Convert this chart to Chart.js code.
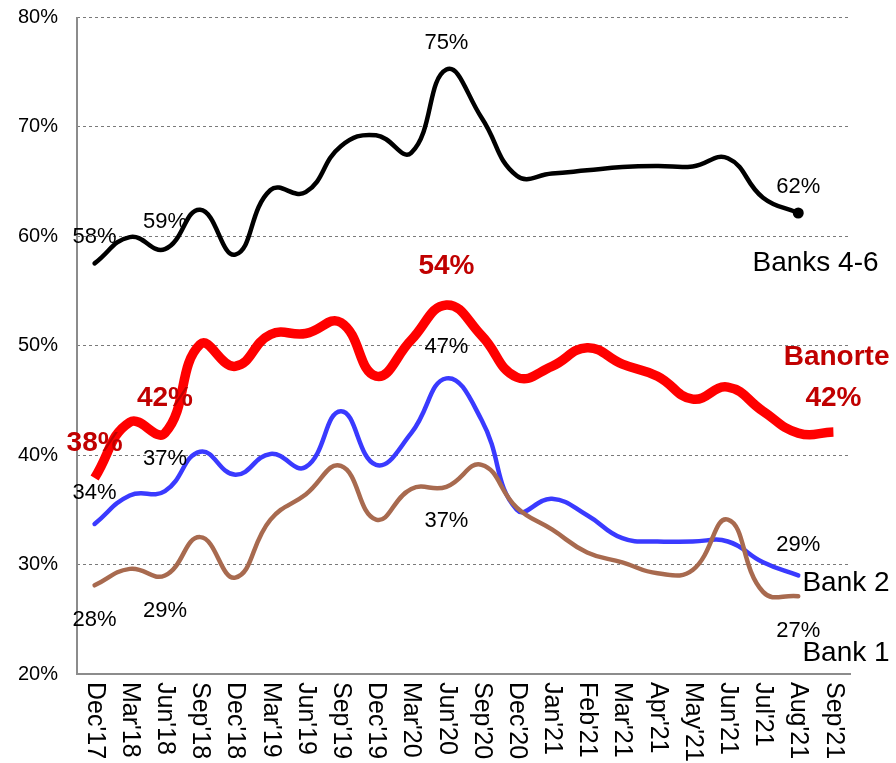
<!DOCTYPE html>
<html>
<head>
<meta charset="utf-8">
<script src="https://cdn.jsdelivr.net/npm/chart.js@4"></script>
<style>
  html, body { margin: 0; padding: 0; background: #fff; }
  #wrap { width: 896px; height: 763px; position: relative; }
</style>
</head>
<body>
<div id="wrap"><canvas id="c" width="896" height="763"></canvas></div>
<script>
const categories = ["Dec'17","Mar'18","Jun'18","Sep'18","Dec'18","Mar'19","Jun'19","Sep'19","Dec'19","Mar'20","Jun'20","Sep'20","Dec'20","Jan'21","Feb'21","Mar'21","Apr'21","May'21","Jun'21","Jul'21","Aug'21","Sep'21"];

const banks46 = [57.5, 59.9, 58.8, 62.4, 58.3, 64.2, 64.0, 68.2, 69.2, 67.6, 75.2, 70.8, 65.5, 65.7, 66.0, 66.3, 66.4, 66.35, 67.1, 63.5, 62.1, null];
const banorte = [37.9, 43.0, 42.0, 50.1, 48.1, 51.0, 51.1, 52.1, 47.2, 50.5, 53.7, 50.9, 47.1, 48.1, 49.8, 48.3, 47.2, 45.1, 46.2, 44.0, 42.0, 42.1];
const bank2   = [33.7, 36.3, 36.7, 40.3, 38.2, 40.1, 38.9, 44.0, 39.1, 42.0, 47.0, 43.2, 35.0, 36.0, 34.5, 32.4, 32.1, 32.1, 32.1, 30.2, 29.0, null];
const bank1   = [28.1, 29.6, 29.0, 32.5, 28.8, 34.1, 36.4, 39.0, 34.1, 36.9, 37.1, 39.1, 35.2, 33.2, 31.1, 30.2, 29.2, 29.5, 34.1, 27.5, 27.1, null];

const yTicks = [20, 30, 40, 50, 60, 70, 80];

// annotation texts: [text, category position, value, style]
const annTexts  = ["58%","59%","75%","62%","Banks 4-6","54%","38%","42%","Banorte","42%","47%","37%","34%","28%","29%","37%","29%","Bank 2","27%","Bank 1"];
const annX      = [0, 2, 10, 20, 18.7, 10, 0, 2, 21.09, 21.0, 10, 2, 0, 0, 2, 10, 20, 20.12, 20, 20.12];
const annY      = [59.9, 61.3, 77.6, 64.5, 57.5, 57.2, 41.1, 45.2, 48.9, 45.2, 49.9, 39.6, 36.5, 24.9, 25.8, 34.0, 31.8, 28.3, 23.9, 21.9];
const annStyle  = ["v","v","v","v","nameL","red","red","red","redName","red","v","v","v","v","v","v","v","nameL","v","nameL"];

const FONT = "'Liberation Sans', Arial, sans-serif";

const overlay = {
  id: 'overlay',
  afterDatasetsDraw(chart) {
    const ctx = chart.ctx;
    const xs = chart.scales.x, ys = chart.scales.y;
    const a = chart.chartArea;
    ctx.save();
    // axis lines
    ctx.strokeStyle = '#8c8c8c';
    ctx.lineWidth = 2;
    ctx.beginPath();
    ctx.moveTo(a.left, a.top);
    ctx.lineTo(a.left, a.bottom);
    ctx.lineTo(a.right, a.bottom);
    ctx.stroke();
    // rotated x labels
    ctx.fillStyle = '#000';
    ctx.font = "25px " + FONT;
    ctx.textAlign = 'left';
    ctx.textBaseline = 'middle';
    categories.forEach((c, i) => {
      const x = xs.getPixelForValue(i);
      ctx.save();
      ctx.translate(x, a.bottom + 8);
      ctx.rotate(Math.PI / 2);
      ctx.fillText(c, 0, 0);
      ctx.restore();
    });
    // annotations
    annTexts.forEach((t, i) => {
      const x = xs.getPixelForValue(annX[i]);
      const y = ys.getPixelForValue(annY[i]);
      const s = annStyle[i];
      ctx.textBaseline = 'middle';
      if (s === 'v') {
        ctx.font = "22px " + FONT; ctx.fillStyle = '#000'; ctx.textAlign = 'center';
      } else if (s === 'nameL') {
        ctx.font = "28px " + FONT; ctx.fillStyle = '#000'; ctx.textAlign = 'left';
      } else {
        ctx.font = "bold 28px " + FONT; ctx.fillStyle = '#c00000'; ctx.textAlign = 'center';
      }
      ctx.fillText(t, x, y);
    });
    ctx.restore();
  }
};

const lastIdx = 20;
new Chart(document.getElementById('c'), {
  type: 'line',
  data: {
    labels: categories,
    datasets: [
      { label: 'Bank 1', data: bank1, borderColor: '#a86a4f', borderWidth: 4.5, pointRadius: 0, tension: 0.45, borderCapStyle: 'round' },
      { label: 'Bank 2', data: bank2, borderColor: '#3a3aff', borderWidth: 4.5, pointRadius: 0, tension: 0.45, borderCapStyle: 'round' },
      { label: 'Banks 4-6', data: banks46, borderColor: '#000000', borderWidth: 4.5, tension: 0.45, borderCapStyle: 'round',
        pointRadius: ctx => ctx.dataIndex === lastIdx ? 5.5 : 0, pointBackgroundColor: '#000', pointBorderWidth: 0 },
      { label: 'Banorte', data: banorte, borderColor: '#ff0000', borderWidth: 9.5, pointRadius: 0, tension: 0.45, borderCapStyle: 'butt' }
    ]
  },
  options: {
    responsive: false,
    animation: false,
    events: [],
    layout: { padding: { left: 0, right: 45, top: 17, bottom: 0 } },
    plugins: { legend: { display: false }, tooltip: { enabled: false } },
    scales: {
      x: {
        offset: true,
        grid: { display: false, drawTicks: false },
        border: { display: false },
        ticks: { display: false },
        afterFit(scale) { scale.height = 89; scale.paddingLeft = 0; scale.paddingRight = 0; }
      },
      y: {
        min: 20, max: 80,
        afterBuildTicks(scale) { scale.ticks = yTicks.map(v => ({ value: v })); },
        afterFit(scale) { scale.width = 77; scale.paddingTop = 0; scale.paddingBottom = 0; },
        border: { display: false, dash: [3, 3] },
        grid: {
          drawTicks: false,
          color: ctx => (ctx.tick && ctx.tick.value === 20) ? 'rgba(0,0,0,0)' : '#7a7a7a',
          lineWidth: 1
        },
        ticks: {
          padding: 19,
          color: '#000',
          font: { family: FONT, size: 20 },
          callback: v => v + '%'
        }
      }
    }
  },
  plugins: [overlay]
});
</script>
</body>
</html>
